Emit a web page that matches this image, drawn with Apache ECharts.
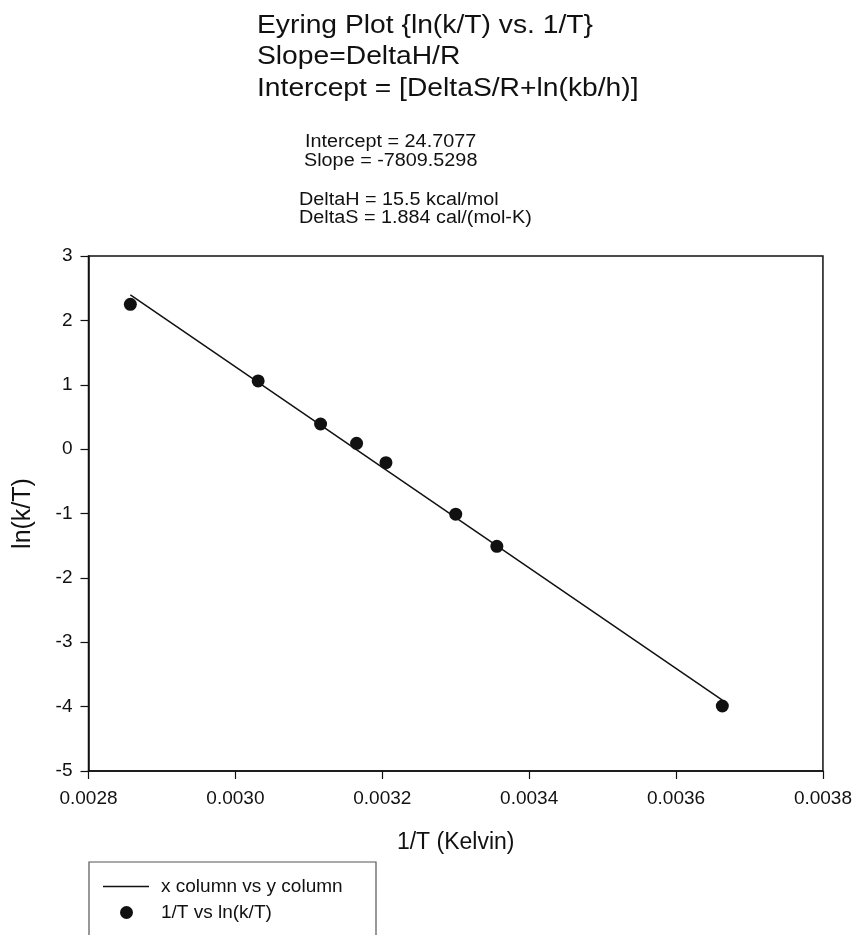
<!DOCTYPE html>
<html><head><meta charset="utf-8">
<script src="https://cdn.jsdelivr.net/npm/echarts@6/dist/echarts.min.js"></script>
<style>html,body{margin:0;padding:0;background:#fff}#c{width:855px;height:935px}</style>
</head><body><div id="c"></div>
<script>
// Data
const invT = [0.002857, 0.003031, 0.003116, 0.003165, 0.003205, 0.003300, 0.003356, 0.003663];
const lnkT = [2.25, 1.06, 0.39, 0.09, -0.21, -1.01, -1.51, -3.99];
const fitX = [0.002857, 0.003663];
const fitY = [2.396, -3.898];
const xTicks = { min: 0.0028, max: 0.0038, interval: 0.0002 };
const yTicks = { min: -5, max: 3, interval: 1 };
const titleLines = ['Eyring Plot {ln(k/T) vs. 1/T}', 'Slope=DeltaH/R', 'Intercept = [DeltaS/R+ln(kb/h)]'];
const statLines = ['Intercept = 24.7077', 'Slope = -7809.5298', 'DeltaH = 15.5 kcal/mol', 'DeltaS = 1.884 cal/(mol-K)'];
const seriesNames = ['x column vs y column', '1/T vs ln(k/T)'];

const FONT = 'Liberation Sans, Arial, sans-serif';
const chart = echarts.init(document.getElementById('c'), null, { renderer: 'canvas' });

const scatterData = invT.map((x, i) => [x, lnkT[i]]);
const fitData = fitX.map((x, i) => [x, fitY[i]]);

const titleY = [26, 57.5, 89];
const statPos = [[305, 142], [304, 161], [299, 200], [299, 218]];
const graphics = [];
titleLines.forEach((t, i) => graphics.push({
  type: 'text', x: 257, y: titleY[i], scaleX: 1.13, scaleY: 1,
  style: { text: t, x: 0, y: 0, font: '25px ' + FONT, fill: '#111', verticalAlign: 'middle', align: 'left' }
}));
statLines.forEach((t, i) => graphics.push({
  type: 'text', x: statPos[i][0], y: statPos[i][1], scaleX: 1.1, scaleY: 1,
  style: { text: t, x: 0, y: 0, font: '18px ' + FONT, fill: '#111', verticalAlign: 'middle', align: 'left' }
}));
graphics.push({
  type: 'rect', shape: { x: 89, y: 862, width: 287, height: 90 },
  style: { fill: 'none', stroke: '#555', lineWidth: 1.2 }, z: 0
});

chart.setOption({
  animation: false,
  backgroundColor: '#fff',
  textStyle: { fontFamily: FONT },
  grid: { left: 88.5, right: 32, top: 256, bottom: 164, show: true, borderColor: '#111', borderWidth: 1.5, containLabel: false },
  graphic: graphics,
  legend: [
    {
      data: [seriesNames[0]], left: 103, top: 877, padding: 0, icon: 'rect',
      itemWidth: 46, itemHeight: 1.5,
      textStyle: { fontSize: 19, color: '#111', fontFamily: FONT, padding: [0, 0, 0, 7] }
    },
    {
      data: [seriesNames[1]], left: 120, top: 903, padding: 0, icon: 'circle',
      itemWidth: 13, itemHeight: 13,
      textStyle: { fontSize: 19, color: '#111', fontFamily: FONT, padding: [0, 0, 0, 23] }
    }
  ],
  xAxis: {
    type: 'value', min: xTicks.min, max: xTicks.max, interval: xTicks.interval,
    name: '1/T (Kelvin)', nameLocation: 'middle', nameGap: 60,
    nameTextStyle: { fontSize: 23, color: '#111', fontFamily: FONT },
    axisLine: { show: true, onZero: false, lineStyle: { color: '#111', width: 1.5 } },
    axisTick: { show: true, inside: false, length: 8, lineStyle: { color: '#111', width: 1.2 } },
    axisLabel: { fontSize: 19, color: '#111', margin: 18, formatter: v => v.toFixed(4) },
    splitLine: { show: false }
  },
  yAxis: {
    type: 'value', min: yTicks.min, max: yTicks.max, interval: yTicks.interval,
    name: 'ln(k/T)', nameLocation: 'middle', nameGap: 53, nameRotate: 90,
    nameTextStyle: { fontSize: 25, color: '#111', fontFamily: FONT },
    axisLine: { show: true, onZero: false, lineStyle: { color: '#111', width: 1.5 } },
    axisTick: { show: true, inside: false, length: 8, lineStyle: { color: '#111', width: 1.2 } },
    axisLabel: { fontSize: 19, color: '#111', margin: 16 },
    splitLine: { show: false }
  },
  series: [
    {
      name: seriesNames[0], type: 'line', data: fitData, symbol: 'none',
      lineStyle: { color: '#111', width: 1.5 }, itemStyle: { color: '#111' }, z: 2
    },
    {
      name: seriesNames[1], type: 'scatter', data: scatterData, symbol: 'circle', symbolSize: 13,
      itemStyle: { color: '#111', opacity: 1 }, z: 3
    }
  ]
});
</script></body></html>
